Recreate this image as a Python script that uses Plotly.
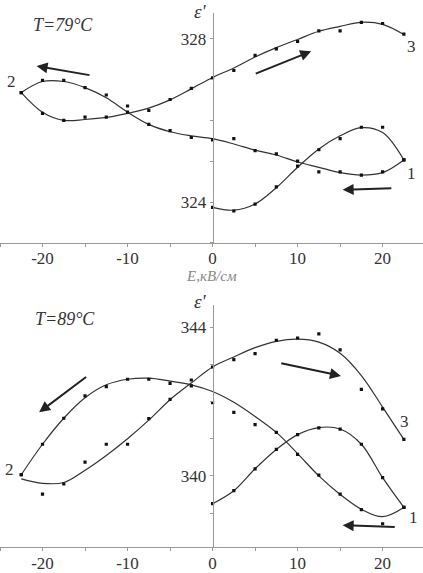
import plotly.graph_objects as go

# ---------------- data ----------------
E_full = [-22.5, -20, -17.5, -15, -12.5, -10, -7.5, -5, -2.5, 0,
          2.5, 5, 7.5, 10, 12.5, 15, 17.5, 20, 22.5]
E_half = [0, 2.5, 5, 7.5, 10, 12.5, 15, 17.5, 20, 22.5]

# T = 79 C (top panel)
top_A_line = [323.87, 323.80, 323.95, 324.35, 324.85, 325.30, 325.62, 325.82, 325.70, 325.03]
top_A_pts = [323.87, 323.78, 323.95, 324.37, 324.88, 325.28, 325.55, 325.83, 325.83, 325.03]
top_B_line = [326.68, 326.95, 326.95, 326.80, 326.55, 326.20, 325.90, 325.72, 325.62, 325.55,
              325.42, 325.27, 325.15, 324.98, 324.85, 324.72, 324.66, 324.72, 325.03]
top_B_pts = [326.68, 326.98, 326.98, 326.80, 326.62, 326.35, 325.90, 325.75, 325.58, 325.52,
             325.55, 325.26, 325.18, 325.00, 324.74, 324.74, 324.66, 324.74, 325.03]
top_C_line = [326.68, 326.20, 326.00, 326.02, 326.07, 326.17, 326.30, 326.50, 326.77, 327.05,
              327.28, 327.55, 327.78, 327.98, 328.18, 328.30, 328.40, 328.35, 328.10]
top_C_pts = [326.68, 326.17, 326.00, 326.08, 326.08, 326.20, 326.24, 326.51, 326.78, 327.04,
             327.22, 327.59, 327.75, 327.93, 328.19, 328.19, 328.40, 328.37, 328.11]

# T = 89 C (bottom panel)
bot_A_line = [339.25, 339.60, 340.19, 340.71, 341.11, 341.30, 341.26, 340.85, 339.95, 339.15]
bot_A_pts = [339.25, 339.60, 340.19, 340.71, 341.11, 341.29, 341.26, 340.85, 339.95, 339.15]
bot_B_line = [340.03, 340.85, 341.55, 342.10, 342.45, 342.60, 342.63, 342.55, 342.45, 342.27,
              341.98, 341.60, 341.17, 340.60, 340.00, 339.50, 339.10, 338.90, 339.15]
bot_B_pts = [340.03, 340.85, 341.55, 342.15, 342.40, 342.60, 342.60, 342.49, 342.58, 341.97,
             341.71, 341.38, 341.17, 340.58, 340.02, 339.51, 339.09, 338.71, 339.15]
bot_C_line = [339.92, 339.80, 339.82, 340.15, 340.55, 341.00, 341.50, 342.05, 342.50, 342.93,
              343.20, 343.45, 343.62, 343.68, 343.60, 343.30, 342.70, 341.85, 340.98]
bot_C_pts = [340.03, 339.51, 339.78, 340.37, 340.85, 340.85, 341.54, 342.06, 342.42, 342.93,
             343.13, 343.29, 343.65, 343.71, 343.82, 343.39, 342.33, 341.80, 340.98]

x_tickvals = [-25, -20, -15, -10, -5, 0, 5, 10, 15, 20, 25]
x_ticktext = ["", "-20", "", "-10", "", "0", "", "10", "", "20", ""]
top_yticks = [323, 324, 325, 326, 327, 328]
top_ytext = ["", "324", "", "", "", "328"]
bot_yticks = [339, 340, 341, 342, 343, 344]
bot_ytext = ["", "340", "", "", "", "344"]

# arrows: (tail E, tail eps, head E, head eps)
top_arrows = [(-14.3, 327.10, -20.7, 327.33),
              (4.9, 327.13, 11.6, 327.69),
              (21.2, 324.34, 15.3, 324.30)]
bot_arrows = [(-14.7, 342.69, -20.4, 341.71),
              (7.9, 343.04, 15.1, 342.69),
              (21.6, 338.62, 15.3, 338.67)]
top_labels = [("2", -23.7, 326.96), ("3", 23.4, 327.81), ("1", 23.4, 324.70)]
bot_labels = [("2", -23.9, 340.18), ("3", 22.6, 341.47), ("1", 23.6, 338.89)]

# ---------------- figure ----------------
W, H = 423, 573
XR = [-25.0, 24.75]
LINE_C = "#333333"
AXIS_C = "#9a9a9a"
SERIF = "Liberation Serif, Times New Roman, DejaVu Serif, serif"

fig = go.Figure()

def add_panel(xa, ya, lines, pts):
    for ex, ln in lines:
        fig.add_trace(go.Scatter(x=ex, y=ln, mode="lines", xaxis=xa, yaxis=ya,
                                 line=dict(color=LINE_C, width=1.2, shape="spline", smoothing=1.0),
                                 hoverinfo="skip"))
    for ex, pv in pts:
        fig.add_trace(go.Scatter(x=ex, y=pv, mode="markers", xaxis=xa, yaxis=ya,
                                 marker=dict(symbol="square", size=3.2, color="#111111")))

add_panel("x", "y",
          [(E_half, top_A_line), (E_full, top_B_line), (E_full, top_C_line)],
          [(E_half, top_A_pts), (E_full, top_B_pts), (E_full, top_C_pts)])
add_panel("x2", "y2",
          [(E_half, bot_A_line), (E_full, bot_B_line), (E_full, bot_C_line)],
          [(E_half, bot_A_pts), (E_full, bot_B_pts), (E_full, bot_C_pts)])

def dom(top_px, bot_px):
    return [1 - bot_px / H, 1 - top_px / H]

ypos = (0 - XR[0]) / (XR[1] - XR[0])
tickfont = dict(family=SERIF, size=17, color="#333333")

xcommon = dict(range=XR, domain=[0, 1], showgrid=False, zeroline=False, showline=True,
               linecolor=AXIS_C, linewidth=1, ticks="outside", ticklen=3, tickcolor=AXIS_C,
               tickmode="array", tickvals=x_tickvals, ticktext=x_ticktext, tickfont=tickfont,
               ticklabelstandoff=-3)
ycommon = dict(showgrid=False, zeroline=False, showline=True, linecolor=AXIS_C, linewidth=1,
               ticks="outside", ticklen=3, tickcolor=AXIS_C, tickmode="array",
               tickfont=tickfont, anchor="free", position=ypos)

top_dom = dom(13, 245)
bot_dom = dom(308, 552)

fig.update_layout(
    width=W, height=H, margin=dict(l=0, r=0, t=0, b=0),
    paper_bgcolor="white", plot_bgcolor="white", showlegend=False,
    xaxis=dict(xcommon, anchor="y"),
    yaxis=dict(ycommon, domain=top_dom, range=[323.0, 328.63],
               tickvals=top_yticks, ticktext=top_ytext),
    xaxis2=dict(xcommon, anchor="y2"),
    yaxis2=dict(ycommon, domain=bot_dom, range=[338.08, 344.59],
                tickvals=bot_yticks, ticktext=bot_ytext),
)

annots = []
for (xr, yr, arrows, labels) in [("x", "y", top_arrows, top_labels),
                                 ("x2", "y2", bot_arrows, bot_labels)]:
    for (tx, ty, hx, hy) in arrows:
        annots.append(dict(x=hx, y=hy, ax=tx, ay=ty, xref=xr, yref=yr, axref=xr, ayref=yr,
                           text="", showarrow=True, arrowhead=2, arrowsize=1.1,
                           arrowwidth=2, arrowcolor="#222222"))
    for (t, lx, ly) in labels:
        annots.append(dict(x=lx, y=ly, xref=xr, yref=yr, text=t, showarrow=False,
                           font=dict(family=SERIF, size=17, color="#333333")))

annots.append(dict(x=-17.6, y=328.34, xref="x", yref="y", text="<i>T=79°C</i>",
                   showarrow=False, font=dict(family=SERIF, size=18, color="#333333")))
annots.append(dict(x=-17.3, y=344.21, xref="x2", yref="y2", text="<i>T=89°C</i>",
                   showarrow=False, font=dict(family=SERIF, size=18, color="#333333")))
annots.append(dict(x=200 / W, y=1 - 12 / H, xref="paper", yref="paper", text="<i>ε'</i>",
                   xanchor="center", yanchor="middle",
                   showarrow=False, font=dict(family=SERIF, size=19, color="#333333")))
annots.append(dict(x=200 / W, y=1 - 304 / H, xref="paper", yref="paper", text="<i>ε'</i>",
                   xanchor="center", yanchor="middle",
                   showarrow=False, font=dict(family=SERIF, size=19, color="#333333")))
annots.append(dict(x=212 / W, y=1 - 278 / H, xref="paper", yref="paper", text="<i>E,кВ/см</i>",
                   xanchor="center", yanchor="middle",
                   showarrow=False, font=dict(family=SERIF, size=15, color="#888888")))

fig.update_layout(annotations=annots)

fig.write_html("out.html", config={"displayModeBar": False},
               post_script="document.body.style.margin='0';document.body.style.overflow='hidden';")
